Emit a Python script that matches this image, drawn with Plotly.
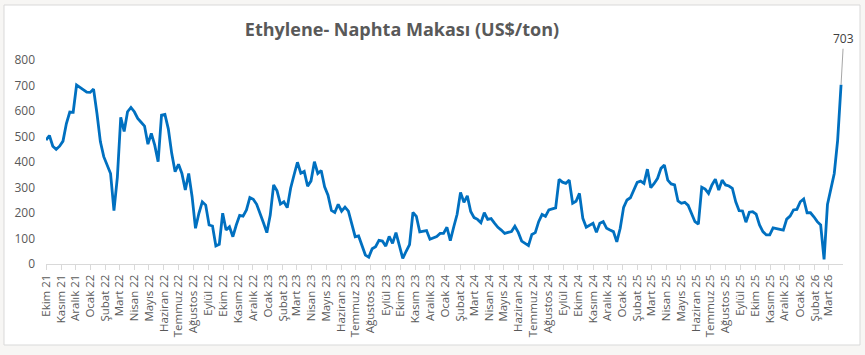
import pandas as pd
import plotly.graph_objects as go

# ---- data ----
start_date = "2021-10-01"
values = [
    486, 504, 462, 450, 462, 482, 551, 596, 595, 702,
    693, 684, 674, 673, 686, 590, 480, 421, 388, 355,
    209, 340, 575, 520, 597, 614, 597, 571, 556, 541,
    470, 512, 466, 401, 584, 587, 530, 434, 362, 391,
    355, 290, 355, 264, 140, 199, 244, 231, 153, 149,
    71, 77, 199, 133, 146, 107, 153, 191, 188, 212,
    261, 254, 234, 201, 162, 123, 192, 310, 287, 235,
    244, 221, 297, 349, 399, 356, 363, 305, 326, 401,
    355, 367, 303, 270, 210, 202, 234, 207, 223, 207,
    153, 107, 110, 68, 35, 27, 60, 68, 93, 90,
    70, 108, 81, 123, 75, 22, 50, 76, 202, 187,
    126, 128, 131, 97, 102, 108, 120, 120, 144, 92,
    145, 195, 281, 242, 267, 206, 182, 175, 162, 201,
    175, 178, 160, 144, 133, 120, 124, 127, 148, 124,
    90, 81, 72, 116, 123, 166, 194, 187, 212, 216,
    220, 332, 321, 316, 329, 238, 246, 277, 179, 144,
    153, 160, 124, 160, 166, 140, 133, 127, 87, 140,
    222, 251, 260, 287, 320, 325, 316, 372, 299, 316,
    336, 375, 388, 329, 314, 310, 247, 238, 242, 230,
    201, 166, 156, 301, 294, 277, 310, 333, 290, 329,
    310, 306, 297, 244, 209, 208, 164, 203, 205, 196,
    153, 127, 114, 114, 142, 139, 136, 133, 176, 188,
    212, 214, 244, 255, 201, 201, 185, 166, 153, 18,
    234, 297, 355, 486, 703,
]
dates = pd.date_range(start_date, periods=len(values), freq="7D")

month_names = ["Ocak", "Şubat", "Mart", "Nisan", "Mayıs", "Haziran", "Temmuz",
               "Ağustos", "Eylül", "Ekim", "Kasım", "Aralık"]
tick_dates = pd.date_range("2021-10-01", "2026-03-01", freq="MS")
tick_labels = [f"{month_names[d.month - 1]} {d.year % 100:02d}" for d in tick_dates]
y_ticks = [0, 100, 200, 300, 400, 500, 600, 700, 800]

title_text = "Ethylene- Naphta Makası (US$/ton)"

# ---- figure ----
fig = go.Figure()
fig.add_trace(go.Scatter(
    x=dates, y=values, mode="lines",
    line=dict(color="#0070C0", width=2.8),
    hoverinfo="skip",
))

gray = "#595959"
L, R, T, B = 46, 22, 60, 91
W, H = 865, 355
pw, ph = W - L - R, H - T - B

def px_to_paper_x(px):
    return (px - L) / pw

def px_to_paper_y(py):
    return (H - B - py) / ph

fig.add_shape(type="rect", xref="paper", yref="paper",
              x0=px_to_paper_x(4), x1=px_to_paper_x(860),
              y0=px_to_paper_y(345), y1=px_to_paper_y(5),
              line=dict(color="#D9D9D9", width=1), fillcolor="white", layer="below")

fig.add_annotation(x=dates[-1], y=values[-1], text=str(values[-1]),
                   showarrow=True, arrowhead=0, arrowwidth=1, arrowcolor="#A6A6A6",
                   ax=2, ay=-36, standoff=0,
                   font=dict(family="Open Sans", size=12, color="#404040"),
                   yanchor="bottom")

fig.update_layout(
    width=W, height=H,
    margin=dict(l=L, r=R, t=T, b=B),
    paper_bgcolor="#F7F6F4",
    plot_bgcolor="white",
    showlegend=False,
    title=dict(text=title_text, x=(402) / W, xanchor="center", y=1 - 30 / H, yanchor="middle",
               font=dict(family="Open Sans", size=18, color=gray, weight="bold")),
    xaxis=dict(
        type="date",
        range=[dates[0], dates[-1] + pd.Timedelta(days=4)],
        tickvals=list(tick_dates), ticktext=tick_labels,
        tickangle=-90,
        ticks="outside", ticklen=5, tickcolor="#D9D9D9",
        showline=True, linecolor="#D9D9D9", linewidth=1,
        showgrid=False, zeroline=False,
        tickfont=dict(family="Open Sans", size=11.5, color=gray),
    ),
    yaxis=dict(
        range=[0, 800],
        tickvals=y_ticks,
        showgrid=False, zeroline=False, showline=False,
        ticks="", ticklabelstandoff=10,
        tickfont=dict(family="Open Sans", size=12, color=gray),
    ),
)

fig.write_html("out.html", config={"displayModeBar": False},
               post_script="document.body.style.margin='0';document.body.style.background='#F7F6F4';")
